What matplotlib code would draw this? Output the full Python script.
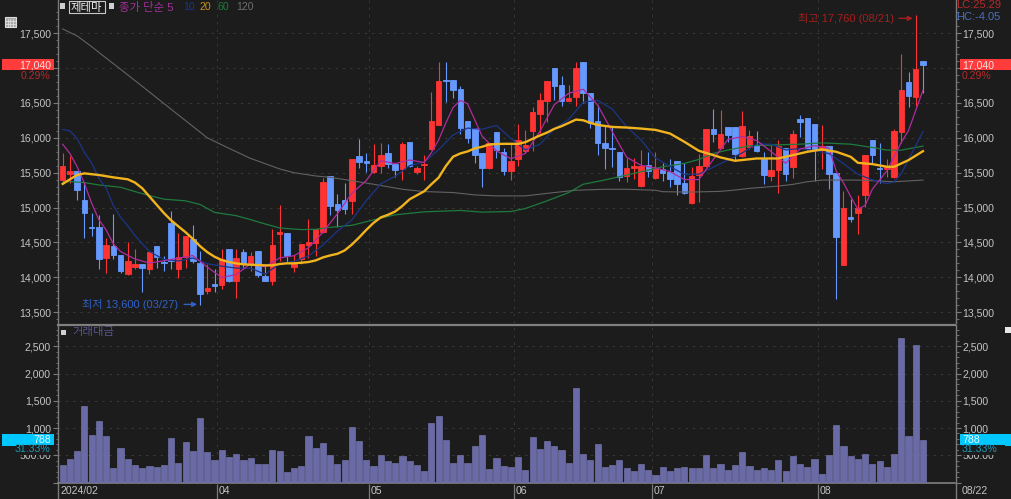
import matplotlib
matplotlib.use("Agg")
import matplotlib.pyplot as plt
from matplotlib.patches import Rectangle
from matplotlib.transforms import blended_transform_factory

plt.rcParams['font.family'] = ['Liberation Sans', 'Noto Sans CJK KR', 'DejaVu Sans']

W, H = 1011, 499

# daily candles, Feb - Aug 2024
opens = [15391,15486,15519,15106,14721,14721,14275,14455,14322,14042,
         14146,14194,14123,14450,14218,14773,14123,14284,14555,14199,
         13809,13899,13890,14403,13951,14365,14184,14374,14018,13951,
         14621,14631,14141,14260,14465,14488,14645,15453,15044,15115,
         15096,15733,15672,15514,15595,15776,15619,15548,15938,15505,
         15614,15838,16190,16828,16828,16700,16248,16143,15786,15562,
         16090,15800,15519,15700,15814,16095,16343,16533,17009,16762,
         16533,16581,17095,16643,16248,15919,15848,15800,15453,15562,
         15310,15605,15424,15547,15513,15661,15351,15060,15471,15595,
         16134,15852,16153,16153,15738,15862,15895,15695,15456,15537,
         15852,15585,16277,16291,16205,15824,15890,15490,14178,14860,
         14927,15175,15967,15566,15556,15432,16086,16797,16591,17102]
highs = [15785,15738,15519,15372,14921,14897,14564,14902,14322,14503,
         14398,14194,14365,14450,14303,14944,14636,14598,14745,14374,
         14194,14122,14412,14403,14398,14412,14365,14374,14194,14697,
         15030,14631,14312,14479,14840,14697,15429,15453,15196,15357,
         15695,15986,15786,15905,15929,15905,15619,15938,15938,15595,
         15748,16652,17095,17095,16828,16738,16248,16143,15786,15919,
         16090,15857,15929,16195,16119,16438,16643,16814,17009,16890,
         16762,17090,17095,16643,16476,16167,16167,15800,15714,15714,
         15824,15800,15800,15633,15690,15661,15633,15585,15766,16134,
         16410,16396,16153,16153,16382,16110,16100,15800,15895,15967,
         15852,16110,16334,16291,16205,16191,15890,15490,15237,15122,
         15175,15752,15967,15928,15695,16134,17197,16949,17760,17102]
lows = [15348,15348,15110,14564,14588,14113,14066,14265,14056,14032,
        14113,13790,14042,14137,14090,14113,13994,14132,14208,13600,
        13762,13790,13838,13932,13695,14122,14090,14004,13942,13890,
        14232,14208,14075,14184,14279,14303,14636,14887,14721,14905,
        14905,15572,15510,15500,15491,15572,15443,15395,15586,15476,
        15395,15819,16190,16509,16571,16048,15929,15633,15300,15548,
        15714,15467,15395,15595,15786,15810,16071,16224,16547,16452,
        16524,16452,16500,16143,15748,15557,15586,15381,15367,15405,
        15300,15443,15405,15380,15289,15180,15194,15051,15079,15585,
        15943,15847,15943,15680,15728,15847,15795,15337,15380,15203,
        15385,15418,16005,15824,15380,15547,15261,13687,14178,14798,
        14621,15013,15633,15347,15442,15428,15919,16444,16463,16649]
closes = [15595,15519,15253,14921,14707,14265,14465,14313,14094,14237,
          14194,14127,14365,14284,14208,14227,14284,14598,14237,13762,
          13847,13871,14260,13942,14275,14194,14298,14027,13951,14465,
          14645,14298,14184,14479,14503,14697,15367,15016,14968,14986,
          15695,15657,15633,15614,15757,15619,15534,15905,15595,15572,
          15624,16238,16814,16819,16681,16138,15995,15752,15572,15919,
          15824,15519,15667,15976,15895,16376,16547,16814,16743,16524,
          16571,17009,16643,16214,15919,15852,15833,15443,15567,15591,
          15595,15529,15557,15494,15404,15337,15213,15456,15595,16134,
          16052,16062,16038,15761,16176,16024,15804,15471,15542,15881,
          15480,16062,16234,15833,15824,15890,15485,14583,14989,14841,
          14989,15752,15747,15552,15585,16100,16692,16596,16992,17040]
volumes = [318,435,570,1408,863,1132,845,257,636,435,
           318,257,306,288,318,814,367,747,570,1175,
           551,404,588,471,514,422,453,337,337,588,
           570,190,269,306,845,636,734,502,337,404,
           1010,765,404,306,502,386,349,483,386,318,
           202,1095,1224,777,367,502,349,679,863,251,
           453,306,288,471,233,832,618,765,667,600,
           349,1726,532,404,698,288,318,416,269,202,
           337,233,135,288,220,257,288,269,269,502,
           269,337,233,318,551,306,233,269,233,404,
           202,483,337,288,435,165,502,1047,667,483,
           435,514,337,386,288,514,2650,845,2522,788]

# moving averages at these bars
ma5_x = [0,1,2,3,4,5,6,7,8,10,12,14,16,18,20,22,24,26,28,30,32,34,36,38,40,42,44,46,48,50,
         51,52,53,54,55,56,58,60,62,64,66,68,70,72,74,76,78,80,82,84,86,88,90,92,94,96,98,
         100,102,104,106,107,108,109,110,111,112,114,116,117,118,119]
ma5_y = [15908,15775,15585,15348,15063,14826,14680,14480,14369,14261,14203,14236,14274,14311,14146,
         13995,14039,14194,14149,14277,14309,14422,14646,14910,15206,15388,15671,15631,15682,15646,
         15787,15969,16213,16435,16538,16489,16028,15812,15700,15776,16092,16475,16640,16698,16471,
         16092,15723,15606,15568,15516,15401,15401,15690,15976,16018,15961,15803,15636,15840,15887,
         15853,15523,15354,15158,14977,15031,15264,15525,15935,16105,16393,16684]
ma10_x = [0,1,2,3,4,5,6,7,8,9,10,12,14,16,18,20,22,24,26,28,30,32,34,36,38,40,42,44,46,48,50,
          52,54,56,58,60,62,64,66,68,70,72,74,76,78,80,82,84,86,88,90,92,94,96,98,100,102,104,
          106,108,110,112,114,115,116,117,118,119]
ma10_y = [16120,16100,15990,15790,15640,15420,15280,15030,14860,14737,14597,14369,14255,14233,14276,
          14194,14158,14131,14129,14043,14193,14228,14305,14462,14663,14820,15101,15340,15449,15601,
          15653,15829,16042,16140,16123,16178,15991,15828,15907,16130,16265,16512,16538,16415,16160,
          15969,15712,15589,15475,15479,15579,15680,15784,15912,15909,15827,15847,15819,15774,15630,
          15477,15397,15345,15366,15487,15688,15888,16090]
ma20_x = [0,1,2,3,5,7,9,10,11,12,13,14,15,16,17,18,19,20,21,22,23,24,25,26,27,28,29,30,31,32,33,34,
          35,36,37,38,39,40,41,42,43,44,45,46,47,48,49,50,51,52,53,54,55,56,57,58,59,60,61,63,64,65,
          66,67,68,69,70,71,72,73,74,75,76,77,78,80,82,84,86,88,90,91,93,96,99,101,103,105,107,109,
          110,112,114,115,117,119]
ma20_y = [15339,15405,15467,15490,15467,15433,15405,15358,15277,15158,15039,14921,14816,14730,14645,
          14550,14446,14360,14294,14246,14218,14199,14184,14180,14175,14170,14170,14189,14199,14199,
          14208,14218,14241,14284,14313,14336,14384,14469,14570,14680,14780,14858,14896,14943,15024,
          15119,15176,15233,15334,15429,15595,15729,15776,15805,15848,15871,15905,15910,15914,15914,
          15938,15986,16033,16076,16129,16167,16214,16262,16252,16214,16186,16171,16157,16152,16148,
          16133,16114,16062,15943,15814,15752,15719,15671,15704,15704,15752,15800,15833,15800,15728,
          15642,15623,15585,15585,15680,15809]
ma60_x = [0,1,3,5,8,10,12,14,17,19,21,24,26,28,30,33,35,37,40,44,46,50,55,58,62,64,67,70,72,75,77,79,
          83,86,88,90,92,95,99,102,105,109,112,114,116,119]
ma60_y = [15360,15372,15358,15324,15291,15229,15172,15120,15096,15044,14930,14883,14826,14764,14707,
          14683,14688,14716,14745,14848,14896,14938,14958,14934,14943,14986,15096,15215,15334,15395,
          15443,15490,15585,15633,15690,15776,15824,15886,15900,15909,15928,15909,15862,15824,15824,15881]
ma120_x = [0,2,4,6,8,11,13,15,18,20,23,26,28,30,32,35,37,40,43,47,50,54,57,60,64,68,71,75,78,82,
           83,87,91,93,95,99,101,103,105,110,115,119]
ma120_y = [17562,17462,17309,17145,16985,16740,16575,16410,16165,16000,15850,15704,15630,15554,15500,
           15453,15433,15385,15334,15262,15229,15215,15181,15167,15167,15215,15248,15262,15262,15248,
           15227,15222,15232,15251,15275,15308,15332,15370,15394,15394,15370,15394]

price_ticks = [13500,14000,14500,15000,15500,16000,16500,17000,17500]
price_labels = ['13,500','14,000','14,500','15,000','15,500','16,000','16,500','','17,500']
vol_ticks = [0,500,1000,1500,2000,2500]
vol_labels = ['','500.00','1,000','1,500','2,000','2,500']
month_pos = [21.35,42.4,62.45,81.55,104.5]
month_names = ['04','05','06','07','08']

BG = '#1c1c1c'
GRID = '#383838'
AXIS = '#7a7a7a'
TXT = '#c4c4c4'
RED = '#ff3333'
BLUE = '#6699ff'
FS = 7.6
DASH = (0, (2.5, 5))


def px_box(x0, y0, x1, y1):
    # pixel box (y from the top) to figure fractions
    return [x0 / W, 1 - y1 / H, (x1 - x0) / W, (y1 - y0) / H]


def ftext(x, y, s, **kw):
    kw.setdefault('fontsize', FS)
    kw.setdefault('va', 'center')
    return fig.text(x / W, 1 - y / H, s, **kw)


def fbox(x0, y0, x1, y1, **kw):
    fig.add_artist(Rectangle((x0 / W, 1 - y1 / H), (x1 - x0) / W, (y1 - y0) / H,
                             transform=fig.transFigure, **kw))


fig = plt.figure(figsize=(W / 100, H / 100), dpi=100, facecolor=BG)
ax = fig.add_axes(px_box(58, 0, 955.5, 323))
ax2 = fig.add_axes(px_box(58, 325, 955.5, 482.5))
ax3 = fig.add_axes(px_box(58, 484, 955.5, 499))

x = list(range(len(closes)))
xmin, xmax = -0.65, 123.5

# candles
colors = [RED if c >= o else BLUE for o, c in zip(opens, closes)]
ax.vlines(x, lows, highs, colors=colors, linewidth=0.8, zorder=2)
ax.bar(x, [abs(c - o) for o, c in zip(opens, closes)],
       bottom=[min(o, c) for o, c in zip(opens, closes)],
       width=0.76, color=colors, edgecolor=colors, linewidth=0.6, zorder=3)

# moving averages
ax.plot(ma120_x, ma120_y, color='#626262', lw=0.8, zorder=4)
ax.plot(ma60_x, ma60_y, color='#1f7a3e', lw=0.9, zorder=4)
ax.plot(ma10_x, ma10_y, color='#1b3688', lw=0.9, zorder=4)
ax.plot(ma5_x, ma5_y, color='#b02c9e', lw=0.9, zorder=5)
ax.plot(ma20_x, ma20_y, color='#f2b41e', lw=1.7, zorder=6)

# volume
ax2.bar(x, volumes, width=0.85, color='#6a6aa6', edgecolor='#7c7cb8', linewidth=0.4, zorder=3)

for a in (ax, ax2, ax3):
    a.set_facecolor(BG)
    a.set_xlim(xmin, xmax)
    a.set_xticks([])
    for side in ('left', 'right'):
        a.spines[side].set_color(AXIS)
        a.spines[side].set_linewidth(1.0)
    a.spines['top'].set_visible(False)
    a.spines['bottom'].set_visible(False)

ax.set_ylim(13343, 17978)
ax.set_yticks(price_ticks)
ax.set_yticklabels(price_labels)
ax.set_yticks(range(13400, 17900, 100), minor=True)
ax2.set_ylim(0, 2891)
ax2.set_yticks(vol_ticks)
ax2.set_yticklabels(vol_labels)
ax2.set_yticks(range(100, 2900, 100), minor=True)

for a in (ax, ax2):
    a.tick_params(axis='y', which='major', left=True, right=True, labelleft=True, labelright=True,
                  length=3.6, width=0.8, color=AXIS, labelcolor=TXT, labelsize=FS, pad=1.5)
    a.tick_params(axis='y', which='minor', left=True, right=True, length=1.8, width=0.6, color=AXIS)
    a.set_axisbelow(True)
    a.grid(axis='y', which='major', color=GRID, linestyle=DASH, linewidth=0.7)
    for m in month_pos:
        a.axvline(m, color=GRID, linestyle=DASH, linewidth=0.7, zorder=1)

# panel borders
ax2.spines['top'].set_visible(True)
ax2.spines['top'].set_color('#808080')
ax2.spines['top'].set_linewidth(1.6)
ax2.spines['bottom'].set_visible(True)
ax2.spines['bottom'].set_color('#808080')
ax2.spines['bottom'].set_linewidth(1.2)

# date strip
ax3.set_ylim(0, 1)
ax3.set_yticks([])
ax3.vlines(month_pos, 0, 1, color=AXIS, linewidth=0.9)
ax3.text(xmin + 0.28, 0.5, '2024/02', color=TXT, fontsize=FS, va='center', ha='left')
for m, name in zip(month_pos, month_names):
    ax3.text(m + 0.25, 0.5, name, color=TXT, fontsize=FS, va='center', ha='left')
ftext(962, 491, '08/22', color=TXT)

# last price / last volume boxes
ybox = blended_transform_factory(fig.transFigure, ax.transData)
ybox2 = blended_transform_factory(fig.transFigure, ax2.transData)
last_price = closes[-1]
last_vol = volumes[-1]
for x0, x1 in ((2, 54), (959.5, W)):
    ax.add_patch(Rectangle((x0 / W, last_price - 70), (x1 - x0) / W, 165, transform=ybox,
                           facecolor='#ff3b3b', edgecolor='none', clip_on=False, zorder=8))
    ax2.add_patch(Rectangle((x0 / W, last_vol - 115), (x1 - x0) / W, 220, transform=ybox2,
                            facecolor='#00c8ff', edgecolor='none', clip_on=False, zorder=8))
ax.text(51 / W, last_price, f'{last_price:,}', transform=ybox, color='#f0e0e0', fontsize=FS,
        ha='right', va='center', zorder=9, clip_on=False)
ax.text(962 / W, last_price, f'{last_price:,}', transform=ybox, color='#f0e0e0', fontsize=FS,
        ha='left', va='center', zorder=9, clip_on=False)
ax2.text(51 / W, last_vol, f'{last_vol}', transform=ybox2, color='#e8f8ff', fontsize=FS,
         ha='right', va='center', zorder=9, clip_on=False)
ax2.text(962 / W, last_vol, f'{last_vol}', transform=ybox2, color='#e8f8ff', fontsize=FS,
         ha='left', va='center', zorder=9, clip_on=False)

ftext(50, 76, '0.29%', color='#b52a2a', ha='right')
ftext(962, 76, '0.29%', color='#b52a2a', ha='left')
# the percent sits on top of the 500 label and hides its upper half
fbox(16, 444.8, 54, 454.5, facecolor=BG, edgecolor='none', zorder=10)
fbox(959, 444.8, 1005, 454.5, facecolor=BG, edgecolor='none', zorder=10)
ftext(50, 449.5, '31.33%', color='#1e9ab8', ha='right', zorder=11)
ftext(962, 449.5, '31.33%', color='#1e9ab8', ha='left', zorder=11)

# top legend
fbox(60, 3.5, 65, 8.5, facecolor='#cfcfcf', edgecolor='none')
fbox(68.5, 1, 105, 13, facecolor=BG, edgecolor='#c8c8c8', linewidth=0.8)
ftext(71, 7, '제테마', color='#f0f0f0', fontsize=8.2)
fbox(109, 3.5, 114, 8.5, facecolor='#cfcfcf', edgecolor='none')
ftext(119, 7, '종가 단순 5', color='#a3309a', fontsize=8.2)
ftext(183, 7, '10', color='#1b3688')
ftext(200, 7, '20', color='#c8921e')
ftext(217, 7, '60', color='#1f7a3e')
ftext(236, 7, '120', color='#6e6e6e')

# small grid button on the left
fbox(4.5, 17, 15.5, 27, facecolor='#a8a8a8', edgecolor='#dcdcdc', linewidth=0.8)
for gx in (7.5, 10, 12.5):
    fig.add_artist(plt.Line2D([gx / W, gx / W], [1 - 19 / H, 1 - 27 / H], color='#e8e8e8', lw=0.5))
for gy in (21, 24):
    fig.add_artist(plt.Line2D([4.5 / W, 15.5 / W], [1 - gy / H, 1 - gy / H], color='#e8e8e8', lw=0.5))

# lower panel legend and the little button at its right
fbox(61, 329.5, 66, 334.5, facecolor='#cfcfcf', edgecolor='none')
ftext(72, 332, '거래대금', color='#55558a', fontsize=8.2)
fbox(1005, 327, 1011, 333, facecolor='#e8e8e8', edgecolor='none')

# LC / HC
ftext(956, 5.5, 'LC:25.29', color='#b52a2a', fontsize=8)
ftext(956, 17, 'HC:-4.05', color='#4a6fc0', fontsize=8)

# low / high notes
ax.text(15.95, 13610, '최저 13,600 (03/27)', color='#2f62c8', fontsize=8, ha='right', va='center')
ax.annotate('', xy=(18.6, 13610), xytext=(16.8, 13610),
            arrowprops=dict(arrowstyle='-|>', color='#2f62c8', lw=1.0, mutation_scale=7,
                            shrinkA=0, shrinkB=0))
ax.text(115.0, 17715, '최고 17,760 (08/21)', color='#a81c1c', fontsize=8, ha='right', va='center')
ax.annotate('', xy=(117.6, 17715), xytext=(115.7, 17715),
            arrowprops=dict(arrowstyle='-|>', color='#a81c1c', lw=1.0, mutation_scale=7,
                            shrinkA=0, shrinkB=0))

plt.savefig('out.png', dpi=100, facecolor=BG)
